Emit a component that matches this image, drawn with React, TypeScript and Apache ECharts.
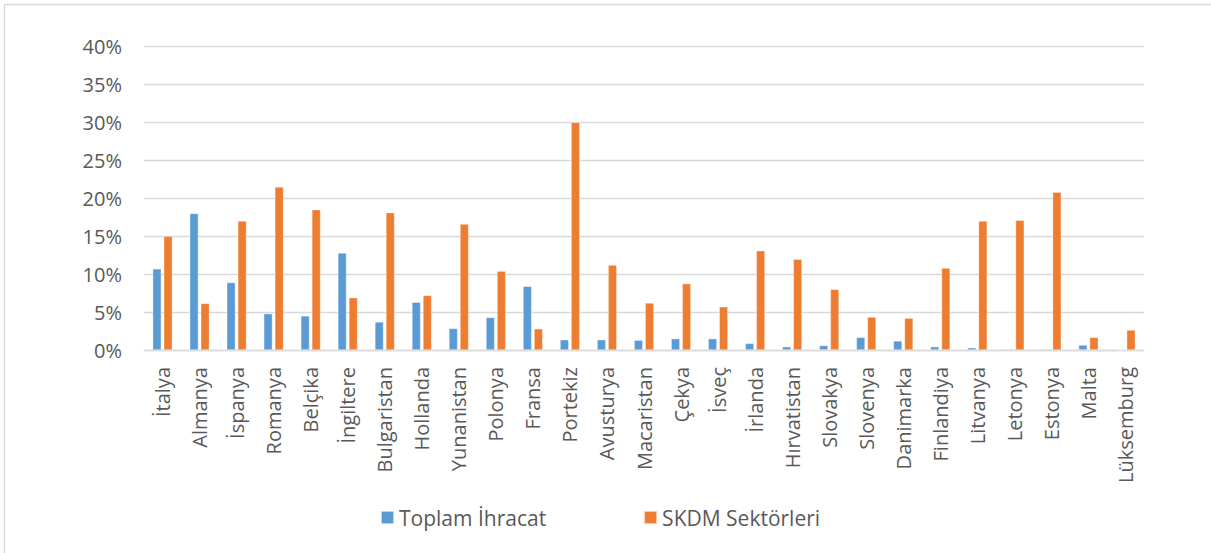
import React, { useEffect, useRef } from "react";
import * as echarts from "echarts";

const categories = [
  "İtalya", "Almanya", "İspanya", "Romanya", "Belçika", "İngiltere", "Bulgaristan",
  "Hollanda", "Yunanistan", "Polonya", "Fransa", "Portekiz", "Avusturya", "Macaristan",
  "Çekya", "İsveç", "İrlanda", "Hırvatistan", "Slovakya", "Slovenya", "Danimarka",
  "Finlandiya", "Litvanya", "Letonya", "Estonya", "Malta", "Lüksemburg",
];

const toplamIhracat = [
  10.7, 18.0, 8.9, 4.8, 4.5, 12.8, 3.7, 6.3, 2.85, 4.3, 8.4, 1.36, 1.36, 1.3,
  1.5, 1.5, 0.88, 0.44, 0.6, 1.67, 1.2, 0.44, 0.3, 0.13, 0.13, 0.66, 0.05,
];

const skdmSektorleri = [
  15.0, 6.15, 17.0, 21.5, 18.5, 6.9, 18.1, 7.2, 16.6, 10.4, 2.8, 30.0, 11.2, 6.2,
  8.75, 5.7, 13.1, 11.96, 8.0, 4.35, 4.2, 10.8, 17.0, 17.1, 20.8, 1.67, 2.64,
];

const seriesNames = ["Toplam İhracat", "SKDM Sektörleri"];

export default function App() {
  const ref = useRef<HTMLDivElement>(null);

  useEffect(() => {
    document.body.style.margin = "0";
    if (!ref.current) return;
    const chart = echarts.init(ref.current, undefined, { renderer: "svg" });
    const font = "'Open Sans', sans-serif";
    const textColor = "#595959";
    chart.setOption({
      animation: false,
      backgroundColor: "#fff",
      textStyle: { fontFamily: font },
      grid: { left: 144, right: 67, top: 46.5, bottom: 203, containLabel: false },
      legend: {
        data: seriesNames,
        left: 380,
        top: 507,
        padding: 0,
        itemGap: 97,
        itemWidth: 13,
        itemHeight: 13,
        icon: "rect",
        textStyle: { color: textColor, fontSize: 21, fontFamily: font },
      },
      xAxis: {
        type: "category",
        data: categories,
        axisLine: { lineStyle: { color: "#D9D9D9", width: 1.3 } },
        axisTick: { show: false },
        axisLabel: {
          rotate: 90,
          interval: 0,
          margin: 17,
          color: textColor,
          fontSize: 20,
          fontFamily: font,
        },
      },
      yAxis: {
        type: "value",
        min: 0,
        max: 40,
        interval: 5,
        axisLine: { show: false },
        axisTick: { show: false },
        splitLine: { lineStyle: { color: "#D9D9D9", width: 1.3 } },
        axisLabel: {
          formatter: (v: number) => `${v}%`,
          margin: 22,
          color: textColor,
          fontSize: 20,
          fontFamily: font,
        },
      },
      series: [
        {
          name: seriesNames[0],
          type: "bar",
          data: toplamIhracat,
          barWidth: 8.7,
          barGap: "27%",
          itemStyle: { color: "#5B9BD5", borderColor: "rgba(255,255,255,0.6)", borderWidth: 0.6 },
        },
        {
          name: seriesNames[1],
          type: "bar",
          data: skdmSektorleri,
          barWidth: 8.7,
          barGap: "27%",
          itemStyle: { color: "#ED7D31", borderColor: "rgba(255,255,255,0.6)", borderWidth: 0.6 },
        },
      ],
      graphic: [
        {
          type: "line",
          shape: { x1: 4, y1: 4.5, x2: 1211, y2: 4.5 },
          style: { stroke: "#D9D9D9", lineWidth: 1.3 },
        },
        {
          type: "line",
          shape: { x1: 4.5, y1: 4, x2: 4.5, y2: 553 },
          style: { stroke: "#D9D9D9", lineWidth: 1.3 },
        },
      ],
    });
    return () => chart.dispose();
  }, []);

  return (
    <div
      ref={ref}
      style={{ position: "absolute", left: 0, top: 0, width: 1211, height: 553 }}
    />
  );
}
